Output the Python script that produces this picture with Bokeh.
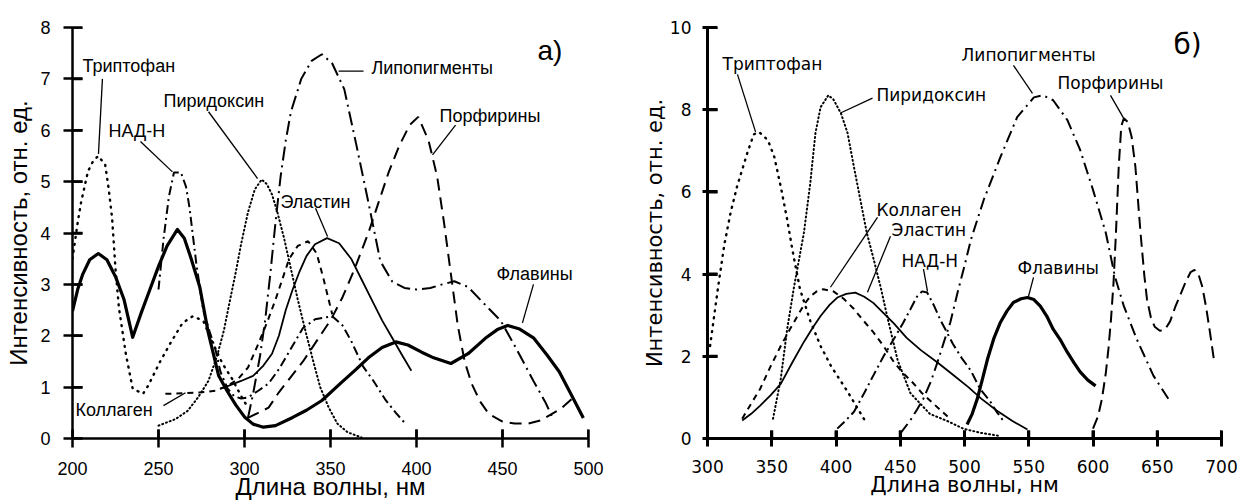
from bokeh.plotting import figure
from bokeh.layouts import row
from bokeh.models import Range1d, FixedTicker
from bokeh.core.properties import value
from bokeh.embed import file_html
from bokeh.resources import INLINE

# ---------------- Panel a) data ----------------
x_ticks_a = [200, 250, 300, 350, 400, 450, 500]
y_ticks_a = [0, 1, 2, 3, 4, 5, 6, 7, 8]

trp_a_x = [200, 203, 205, 209, 212, 215, 219, 221, 223, 225, 227, 231, 235, 241, 244, 251, 257, 264, 270, 276, 281, 287, 293, 298, 302]
trp_a_y = [3.5, 4.2, 4.6, 5.2, 5.4, 5.5, 5.33, 4.87, 4.3, 3.3, 2.54, 1.65, 0.97, 0.87, 1.03, 1.5, 1.86, 2.25, 2.38, 2.29, 1.9, 1.47, 1.15, 0.83, 0.6]

nad_a_x = [250, 253, 256, 259, 263, 266, 268, 272, 276, 280, 283, 286, 290, 294, 298, 302, 308, 314, 320, 327, 334, 341, 351, 357, 362, 369, 375, 382, 388, 393]
nad_a_y = [2.9, 3.9, 4.7, 5.18, 5.18, 4.9, 4.5, 3.4, 2.5, 2.05, 1.75, 1.3, 0.98, 0.82, 0.78, 0.8, 0.93, 1.07, 1.35, 1.75, 2.15, 2.32, 2.38, 2.2, 1.9, 1.4, 1.12, 0.75, 0.5, 0.31]

pyr_a_x = [250, 260, 267, 273, 279, 284, 288, 291, 295, 298, 302, 306, 310, 313, 316, 319, 323, 327, 331, 335, 340, 344, 349, 354, 360, 368]
pyr_a_y = [0.25, 0.38, 0.54, 0.8, 1.12, 1.6, 2.1, 2.6, 3.25, 3.78, 4.4, 4.85, 5.04, 4.95, 4.75, 4.42, 3.9, 3.3, 2.7, 2.15, 1.5, 1.0, 0.6, 0.29, 0.12, 0.02]

col_a_x = [254, 265, 275, 283, 290, 296, 302, 308, 313, 318, 322, 326, 331, 337, 342, 346, 351]
col_a_y = [0.87, 0.88, 0.9, 0.93, 1.02, 1.15, 1.38, 1.84, 2.25, 2.7, 3.1, 3.5, 3.75, 3.84, 3.6, 3.1, 2.42]

ela_a_x = [286, 291, 298, 305, 311, 316, 320, 324, 328, 332, 336, 341, 348, 355, 362, 368, 374, 380, 386, 392, 397]
ela_a_y = [0.97, 1.03, 1.12, 1.22, 1.42, 1.65, 2.0, 2.5, 2.9, 3.25, 3.55, 3.78, 3.9, 3.8, 3.5, 3.1, 2.7, 2.3, 1.95, 1.6, 1.32]

lip_a_x = [302, 305, 309, 312, 315, 318, 321, 324, 327, 333, 339, 345, 351, 358, 365, 372, 379, 386, 393, 400, 408, 415, 422, 430, 440, 449, 458, 468, 475, 479]
lip_a_y = [0.4, 0.87, 1.6, 2.3, 3.2, 4.2, 5.1, 5.8, 6.36, 7.0, 7.35, 7.48, 7.3, 6.8, 5.72, 4.6, 3.45, 3.05, 2.93, 2.9, 2.93, 3.0, 3.06, 2.95, 2.6, 2.29, 1.75, 1.12, 0.7, 0.41]

por_a_x = [302, 308, 314, 320, 327, 334, 342, 350, 357, 364, 372, 378, 384, 390, 396, 401, 407, 412, 416, 420, 424, 428, 432, 437, 442, 450, 457, 465, 472, 484, 493]
por_a_y = [0.4, 0.5, 0.6, 0.9, 1.2, 1.5, 1.9, 2.3, 2.75, 3.3, 4.0, 4.6, 5.2, 5.7, 6.1, 6.26, 5.8, 5.1, 4.2, 3.2, 2.2, 1.5, 1.07, 0.72, 0.48, 0.33, 0.29, 0.29, 0.35, 0.58, 0.85]

fla_a_x = [200, 203, 206, 210, 215, 220, 225, 230, 235, 240, 245, 250, 255, 261, 265, 269, 274, 279, 285, 290, 295, 300, 305, 311, 318, 328, 336, 345, 355, 365, 372, 380, 388, 395, 403, 410, 420, 430, 440, 447, 453, 460, 468, 476, 483, 490, 497]
fla_a_y = [2.48, 2.9, 3.2, 3.48, 3.6, 3.48, 3.15, 2.7, 1.97, 2.45, 2.9, 3.35, 3.75, 4.07, 3.9, 3.5, 2.95, 2.05, 1.22, 0.92, 0.65, 0.42, 0.28, 0.22, 0.25, 0.41, 0.55, 0.74, 1.05, 1.35, 1.57, 1.77, 1.88, 1.82, 1.68, 1.57, 1.46, 1.65, 1.95, 2.12, 2.2, 2.13, 1.96, 1.62, 1.3, 0.85, 0.4]

lab_a_text = ["Триптофан", "НАД-Н", "Пиридоксин", "Эластин", "Липопигменты", "Порфирины", "Флавины", "Коллаген", "а)"]
lab_a_x = [205.8, 220.9, 252.9, 320.9, 373.8, 413.4, 446.5, 201.7, 470.3]
lab_a_y = [7.25, 5.99, 6.57, 4.61, 7.21, 6.28, 3.2, 0.56, 7.56]
lab_a_size = ["18px"] * 8 + ["28px"]
lead_a_x0 = [217.4, 239.5, 279.1, 341.3, 354.7, 422.7, 468.0, 252.9]
lead_a_y0 = [7.0, 5.78, 6.36, 4.48, 7.15, 6.1, 3.0, 0.64]
lead_a_x1 = [215.1, 258.1, 307.6, 348.3, 369.2, 409.3, 461.6, 265.7]
lead_a_y1 = [5.54, 5.19, 5.06, 3.93, 7.15, 5.52, 2.25, 0.89]

# ---------------- Panel б) data ----------------
x_ticks_b = [300, 350, 400, 450, 500, 550, 600, 650, 700]
y_ticks_b = [0, 2, 4, 6, 8, 10]

trp_b_x = [302, 308, 313, 318, 323, 331, 336, 340, 347, 352, 357, 362, 366, 372, 380, 388, 396, 409, 423]
trp_b_y = [2.25, 3.63, 4.7, 5.5, 6.13, 6.95, 7.4, 7.46, 7.26, 6.85, 6.13, 5.33, 4.6, 3.63, 2.86, 2.25, 1.77, 1.14, 0.41]

pyr_b_x = [351, 357, 362, 367, 375, 380, 384, 388, 394, 398, 404, 409, 414, 419, 424, 429, 435, 440, 448, 458, 473, 487, 499, 512, 526]
pyr_b_y = [0.48, 1.45, 2.66, 3.63, 5.0, 6.22, 7.43, 8.06, 8.35, 8.25, 7.9, 7.43, 6.6, 5.8, 5.0, 4.4, 3.65, 2.95, 1.9, 1.1, 0.6, 0.42, 0.24, 0.14, 0.07]

col_b_x = [327, 334, 341, 349, 357, 364, 370, 375, 380, 385, 390, 398, 406, 414, 421, 429, 437, 445, 452, 460, 467, 474, 481, 488]
col_b_y = [0.48, 0.85, 1.21, 1.75, 2.25, 2.65, 2.98, 3.25, 3.46, 3.58, 3.63, 3.58, 3.4, 3.15, 2.88, 2.59, 2.25, 1.86, 1.6, 1.35, 1.1, 0.9, 0.7, 0.5]

ela_b_x = [327, 334, 341, 349, 357, 366, 375, 382, 388, 395, 401, 408, 415, 422, 429, 437, 445, 455, 466, 479, 491, 503, 513, 525, 537, 549]
ela_b_y = [0.44, 0.6, 0.8, 1.05, 1.33, 1.85, 2.35, 2.7, 2.98, 3.25, 3.43, 3.52, 3.55, 3.45, 3.3, 3.05, 2.8, 2.45, 2.15, 1.85, 1.55, 1.25, 0.97, 0.68, 0.43, 0.22]

nad_b_x = [401, 407, 414, 421, 429, 437, 445, 452, 458, 463, 467, 471, 476, 481, 486, 491, 498, 505, 512, 520, 525, 530]
nad_b_y = [0.24, 0.42, 0.65, 1.05, 1.53, 2.0, 2.42, 2.8, 3.15, 3.45, 3.58, 3.55, 3.25, 2.9, 2.6, 2.3, 1.95, 1.65, 1.21, 0.9, 0.65, 0.44]

lip_b_x = [450, 458, 463, 468, 474, 479, 484, 489, 495, 500, 505, 515, 528, 541, 554, 561, 569, 580, 590, 600, 610, 617, 624, 634, 647, 660]
lip_b_y = [0.12, 0.45, 0.7, 0.97, 1.4, 1.86, 2.35, 2.83, 3.6, 4.2, 4.84, 5.81, 6.85, 7.82, 8.3, 8.35, 8.23, 7.75, 7.02, 6.05, 5.0, 3.95, 3.22, 2.42, 1.53, 0.9]

por_b_x = [600, 604, 607, 610, 612, 614, 616, 618, 620, 622, 624, 627, 630, 633, 635, 637, 640, 642, 645, 648, 652, 656, 660, 664, 668, 672, 676, 679, 682, 685, 688, 691, 694]
por_b_y = [0.24, 0.55, 0.97, 1.6, 2.18, 2.9, 3.8, 5.1, 6.6, 7.6, 7.79, 7.7, 7.35, 6.61, 5.8, 5.0, 3.95, 3.39, 2.95, 2.72, 2.62, 2.65, 2.85, 3.2, 3.5, 3.8, 4.05, 4.1, 4.0, 3.7, 3.2, 2.59, 1.94]

fla_b_x = [502, 506, 510, 514, 518, 523, 528, 533, 538, 544, 549, 554, 559, 564, 569, 575, 580, 585, 590, 596, 602]
fla_b_y = [0.34, 0.6, 0.97, 1.45, 1.94, 2.45, 2.83, 3.1, 3.31, 3.4, 3.43, 3.38, 3.22, 2.98, 2.66, 2.38, 2.1, 1.85, 1.62, 1.42, 1.28]

lab_b_text = ["Триптофан", "Пиридоксин", "Коллаген", "Эластин", "НАД-Н", "Липопигменты", "Порфирины", "Флавины", "б)"]
lab_b_x = [311.7, 431.5, 431.5, 443.2, 451.0, 497.7, 572.4, 541.2, 662.6]
lab_b_y = [9.12, 8.35, 5.57, 5.08, 4.31, 9.32, 8.64, 4.16, 9.59]
lab_b_size = ["17px"] * 8 + ["28px"]
lead_b_x0 = [323.3, 428.4, 432.3, 442.4, 468.1, 538.1, 613.6, 553.7]
lead_b_y0 = [8.86, 8.28, 5.38, 4.92, 4.12, 9.08, 8.35, 3.92]
lead_b_x1 = [337.4, 403.5, 395.7, 424.5, 471.2, 552.9, 623.7, 549.8]
lead_b_y1 = [7.46, 7.92, 3.68, 3.56, 3.58, 8.4, 7.8, 3.46]

X_LABEL = "Длина волны, нм"
Y_LABEL = "Интенсивность, отн. ед."
K = "black"


def make_panel(w, h, xr, yr, xt, yt, borders, font, tick_fs, lab_fs, axw,
               xin, xout, yin, yout, xstand, xlstand, ystand, ylstand):
    bl, br, bt, bb = borders
    p = figure(width=w, height=h, x_range=Range1d(*xr), y_range=Range1d(*yr),
               output_backend="svg", toolbar_location=None,
               min_border_left=bl, min_border_right=br,
               min_border_top=bt, min_border_bottom=bb)
    p.outline_line_color = None
    p.xgrid.visible = False
    p.ygrid.visible = False
    p.xaxis.ticker = FixedTicker(ticks=xt)
    p.yaxis.ticker = FixedTicker(ticks=yt)
    p.xaxis.axis_label = X_LABEL
    p.yaxis.axis_label = Y_LABEL
    for ax in (p.xaxis[0], p.yaxis[0]):
        ax.axis_line_width = axw
        ax.axis_line_color = K
        ax.major_tick_line_width = axw
        ax.major_tick_line_color = K
        ax.minor_tick_line_color = None
        ax.major_label_text_font = font
        ax.major_label_text_font_size = tick_fs
        ax.major_label_text_color = K
        ax.axis_label_text_font = font
        ax.axis_label_text_font_size = lab_fs
        ax.axis_label_text_font_style = "normal"
        ax.axis_label_text_color = K
    p.xaxis.major_tick_in = xin
    p.xaxis.major_tick_out = xout
    p.yaxis.major_tick_in = yin
    p.yaxis.major_tick_out = yout
    p.xaxis.major_label_standoff = xstand
    p.xaxis.axis_label_standoff = xlstand
    p.yaxis.major_label_standoff = ystand
    p.yaxis.axis_label_standoff = ylstand
    # inner tick marks repeated as glyphs (lengths converted from pixels to data units)
    fw = w - bl - br
    fh = h - bt - bb
    ty = xin * (yr[1] - yr[0]) / fh
    tx = yin * (xr[1] - xr[0]) / fw
    p.segment(x0=xt, y0=[yr[0]] * len(xt), x1=xt, y1=[yr[0] + ty] * len(xt),
              line_color=K, line_width=axw)
    p.segment(x0=[xr[0]] * len(yt), y0=yt, x1=[xr[0] + tx] * len(yt), y1=yt,
              line_color=K, line_width=axw)
    return p


def draw_labels(p, texts, xs, ys, sizes, x0, y0, x1, y1, font):
    p.segment(x0=x0, y0=y0, x1=x1, y1=y1, line_color=K, line_width=1.3)
    p.text(x=xs, y=ys, text=texts, text_font=value(font), text_font_size=sizes,
           text_align="left", text_baseline="middle", text_color=K)


# ---------------- Panel a) ----------------
FA = "Liberation Sans"
pa = make_panel(621, 503, (200, 500), (0, 8), x_ticks_a, y_ticks_a, (72, 33, 25, 65), FA,
                "18px", "24px", 2.5, 9, 9, 10, 9, 14, -5, 13, 5)
pa.line(trp_a_x, trp_a_y, line_color=K, line_width=2.4, line_dash="1 6", line_cap="round")
pa.line(pyr_a_x, pyr_a_y, line_color=K, line_width=2.0, line_dash="1 3", line_cap="round")
pa.line(nad_a_x, nad_a_y, line_color=K, line_width=2.0, line_dash="9 4 2 4")
pa.line(col_a_x, col_a_y, line_color=K, line_width=2.0, line_dash="6 5")
pa.line(ela_a_x, ela_a_y, line_color=K, line_width=1.8, line_join="round")
pa.line(lip_a_x, lip_a_y, line_color=K, line_width=2.0, line_dash="14 5 2 5")
pa.line(por_a_x, por_a_y, line_color=K, line_width=2.0, line_dash="12 7")
pa.line(fla_a_x, fla_a_y, line_color=K, line_width=3.2, line_join="round")
draw_labels(pa, lab_a_text, lab_a_x, lab_a_y, lab_a_size,
            lead_a_x0, lead_a_y0, lead_a_x1, lead_a_y1, FA)

# ---------------- Panel б) ----------------
FB = "DejaVu Sans"
pb = make_panel(620, 503, (300, 700), (0, 10), x_ticks_b, y_ticks_b, (86, 20, 27, 63), FB,
                "17px", "21px", 3.0, 8, 8, 10, 5, 13, -3, 11, 0)
pb.line(trp_b_x, trp_b_y, line_color=K, line_width=2.4, line_dash="1 6", line_cap="round")
pb.line(pyr_b_x, pyr_b_y, line_color=K, line_width=2.0, line_dash="1 3", line_cap="round")
pb.line(col_b_x, col_b_y, line_color=K, line_width=2.0, line_dash="6 5")
pb.line(ela_b_x, ela_b_y, line_color=K, line_width=1.8, line_join="round")
pb.line(nad_b_x, nad_b_y, line_color=K, line_width=2.0, line_dash="10 4 2 4")
pb.line(lip_b_x, lip_b_y, line_color=K, line_width=2.0, line_dash="12 5 2 5")
pb.line(por_b_x, por_b_y, line_color=K, line_width=2.0, line_dash="12 6")
pb.line(fla_b_x, fla_b_y, line_color=K, line_width=3.2, line_join="round")
draw_labels(pb, lab_b_text, lab_b_x, lab_b_y, lab_b_size,
            lead_b_x0, lead_b_y0, lead_b_x1, lead_b_y1, FB)

layout = row(pa, pb)
open("out.html", "w").write(file_html(layout, INLINE))
